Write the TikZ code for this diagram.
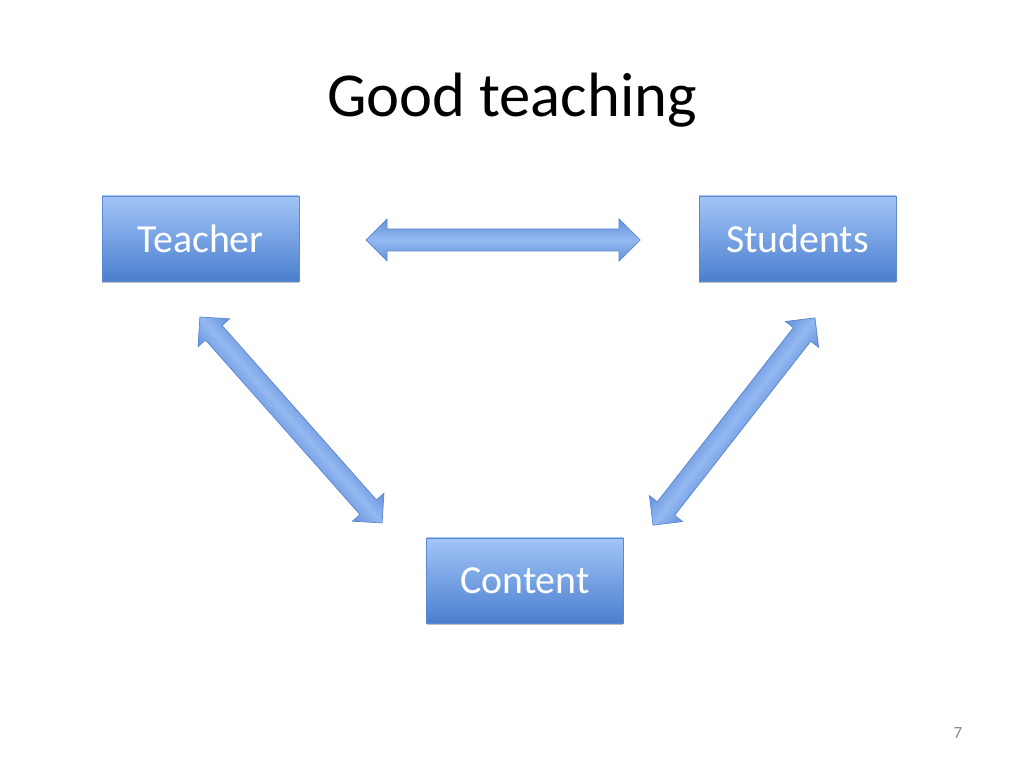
\documentclass[tikz,border=0pt]{standalone}
\usepackage{fontspec}
\setmainfont{Carlito}
\usetikzlibrary{shadows}
\definecolor{boxtop}{HTML}{A3C5F7}
\definecolor{boxbot}{HTML}{4A7FCF}
\definecolor{boxline}{HTML}{5B8AD2}
\definecolor{arrmid}{HTML}{94B9F1}
\definecolor{arredge}{HTML}{6592DD}
\definecolor{arrline}{HTML}{5A87D0}
\definecolor{pagegray}{HTML}{8C8C8C}
\newcommand\blockarrow[3]{%
  \begin{scope}[transform canvas={shift={#1},rotate=#2}]
    \path[barrow]
      ({-#3/2},0) -- ({-#3/2+21},-21) -- ({-#3/2+21},-11) -- ({#3/2-21},-11)
      -- ({#3/2-21},-21) -- ({#3/2},0) -- ({#3/2-21},21) -- ({#3/2-21},11)
      -- ({-#3/2+21},11) -- ({-#3/2+21},21) -- cycle;
  \end{scope}}
\begin{document}
\begin{tikzpicture}[x=0.703125pt,y=-0.703125pt,
  box/.style={draw=boxline, line width=0.5pt, top color=boxtop, bottom color=boxbot,
    minimum width=138.5pt, minimum height=59.8pt, inner sep=0pt,
    text=white, font=\fontsize{28}{32}\selectfont,
    drop shadow={shadow xshift=0pt, shadow yshift=-1.6pt, opacity=0.25, fill=black}},
  barrow/.style={draw=arrline, line width=0.5pt, top color=arredge, bottom color=arredge, middle color=arrmid},
  title/.style={font=\fontsize{44}{52}\selectfont, text=black, inner sep=0pt},
  pagenum/.style={font=\fontsize{12}{14}\selectfont, text=pagegray, inner sep=0pt}]
\useasboundingbox[fill=white] (0,0) rectangle (1024,768);
\node[title, anchor=base] (title) at (512,117) {Good teaching};
\node[box] (teacher) at (200.5,238.5) {Teacher};
\node[box] (students) at (797.5,238.5) {Students};
\node[box] (content) at (525,580.5) {Content};
\blockarrow{(503,240)}{0}{274}
\blockarrow{(291,420)}{-48.5}{275}
\blockarrow{(734,421.5)}{52}{263}
\node[pagenum] (pnum) at (958,733) {7};
\end{tikzpicture}
\end{document}
